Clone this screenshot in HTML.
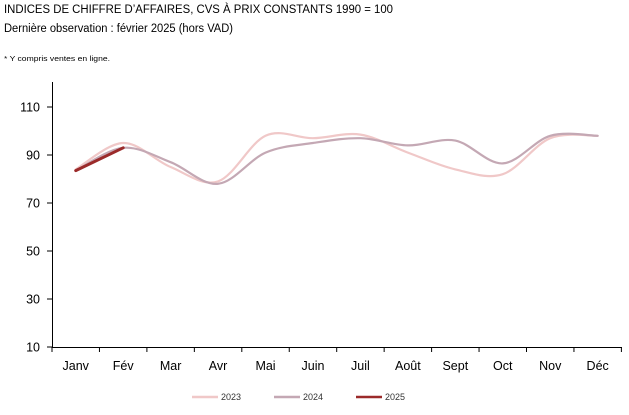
<!DOCTYPE html>
<html><head><meta charset="utf-8"><style>
body{margin:0;background:#fff;width:629px;height:410px;overflow:hidden;font-family:"Liberation Sans",sans-serif}
</style></head><body>
<svg id="s" width="629" height="410" xmlns="http://www.w3.org/2000/svg" font-family="Liberation Sans, sans-serif">
<text x="4" y="13" font-size="11.5" fill="#000" textLength="389" lengthAdjust="spacingAndGlyphs">INDICES DE CHIFFRE D’AFFAIRES, CVS À PRIX CONSTANTS 1990 = 100</text>
<text x="4" y="32" font-size="11.5" fill="#000" textLength="229" lengthAdjust="spacingAndGlyphs">Dernière observation : février 2025 (hors VAD)</text>
<text x="4" y="61" font-size="7.5" fill="#000" textLength="106" lengthAdjust="spacingAndGlyphs">* Y compris ventes en ligne.</text>
<g stroke="#000" stroke-width="1" fill="none">
<line x1="52.5" y1="82" x2="52.5" y2="347.5"/>
<line x1="52" y1="347.5" x2="622" y2="347.5"/>
</g>
<g id="yt" font-size="12.5" fill="#000" text-anchor="end"></g>
<g id="xt" font-size="12.5" fill="#000" text-anchor="middle"></g>
<g id="lines" fill="none" stroke-linecap="round"></g>
<g font-size="9" fill="#333">
<line x1="192" y1="397" x2="218" y2="397" stroke="#f0c8c8" stroke-width="2.5"/><text x="221" y="400">2023</text>
<line x1="274" y1="397" x2="300" y2="397" stroke="#c4a8b4" stroke-width="2.5"/><text x="303" y="400">2024</text>
<line x1="356" y1="397" x2="382" y2="397" stroke="#9b2a2a" stroke-width="2.5"/><text x="385" y="400">2025</text>
</g>
</svg>
<script>
var NS="http://www.w3.org/2000/svg";
function el(t,a,p,txt){var e=document.createElementNS(NS,t);for(var k in a)e.setAttribute(k,a[k]);if(txt)e.textContent=txt;document.getElementById(p).appendChild(e);}
function Y(v){return 347-(v-10)*2.4;}
var step=47.45;function X(i){return 52+step*(i+0.5);}
[10,30,50,70,90,110].forEach(function(v){var y=Y(v);el("line",{x1:47,x2:52,y1:y,y2:y,stroke:"#000"},"yt");el("text",{x:40,y:y+4.5},"yt",""+v);});
var m=["Janv","Fév","Mar","Avr","Mai","Juin","Juil","Août","Sept","Oct","Nov","Déc"];
m.forEach(function(t,i){el("text",{x:X(i),y:370},"xt",t);});
for(var k=0;k<=12;k++){var x=52+step*k;el("line",{x1:x,x2:x,y1:347,y2:352,stroke:"#000"},"xt");}
function path(d){var p=d.map(function(v,i){return [X(i),Y(v)];});var s="M"+p[0][0]+","+p[0][1];
for(var i=0;i<p.length-1;i++){var p0=p[i-1]||p[i],p1=p[i],p2=p[i+1],p3=p[i+2]||p2;var t=6;
s+=" C"+(p1[0]+(p2[0]-p0[0])/t)+","+(p1[1]+(p2[1]-p0[1])/t)+" "+(p2[0]-(p3[0]-p1[0])/t)+","+(p2[1]-(p3[1]-p1[1])/t)+" "+p2[0]+","+p2[1];}return s;}
el("path",{d:path([84,95,85,79,98,97,98.5,91,84,82,97,98]),stroke:"#f0c8c8","stroke-width":2.2},"lines");
el("path",{d:path([83.5,93,87,78,91,95,97,94,96,86.5,98,98]),stroke:"#c4a8b4","stroke-width":2.2},"lines");
el("path",{d:"M"+X(0)+","+Y(83.5)+" L"+X(1)+","+Y(93),stroke:"#9b2a2a","stroke-width":3},"lines");
</script>
</body></html>
